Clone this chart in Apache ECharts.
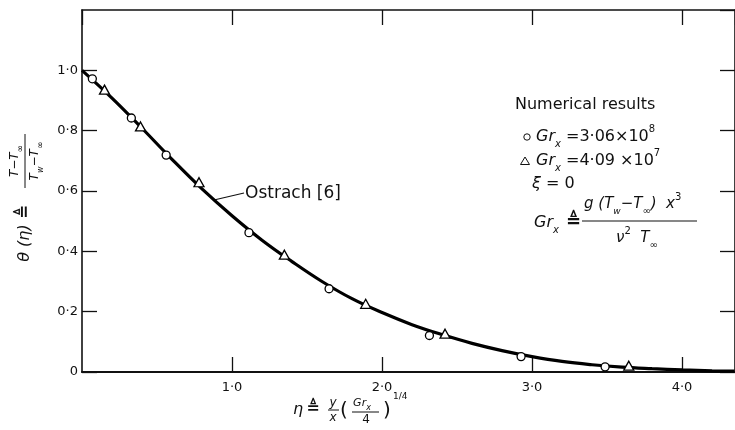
<!DOCTYPE html>
<html>
<head>
<meta charset="utf-8">
<script src="https://cdn.jsdelivr.net/npm/echarts@6/dist/echarts.min.js"></script>
<style>
  html, body { margin: 0; padding: 0; background: #fff; }
  #chart { width: 735px; height: 430px; }
</style>
</head>
<body>
<div id="chart"></div>
<script>
// Ostrach similarity solution (solid curve)
const curveEta = [0, 0.2, 0.4, 0.6, 0.8, 1.0, 1.2, 1.4, 1.6, 1.8, 2.0, 2.2, 2.4, 2.6, 2.8, 3.0, 3.2, 3.4, 3.6, 3.8, 4.0, 4.2, 4.35];
const curveTheta = [1.0, 0.908, 0.808, 0.705, 0.607, 0.518, 0.437, 0.366, 0.300, 0.243, 0.197, 0.157, 0.124, 0.095, 0.071, 0.051, 0.035, 0.024, 0.016, 0.011, 0.007, 0.004, 0.003];

// numerical results, Gr_x = 3.06e8 (circles)
const circleEta = [0.069, 0.329, 0.561, 1.113, 1.647, 2.316, 2.927, 3.487];
const circleTheta = [0.972, 0.842, 0.719, 0.462, 0.276, 0.121, 0.051, 0.017];

// numerical results, Gr_x = 4.09e7 (triangles)
const triEta = [0.15, 0.39, 0.78, 1.349, 1.891, 2.42, 3.645];
const triTheta = [0.936, 0.814, 0.629, 0.389, 0.226, 0.127, 0.021];

const xTicks = [1, 2, 3, 4];
const yTicks = [0, 0.2, 0.4, 0.6, 0.8, 1.0];

const FONT = '"DejaVu Sans", sans-serif';
const INK = '#111';

function dotted(v) {
    return v === 0 ? '0' : v.toFixed(1).replace('.', '\u00b7');
}

function pairs(xs, ys) {
    return xs.map((x, i) => [x, ys[i]]);
}

// small text helper for the annotations
function txt(x, y, s, size, extra) {
    return {
        type: 'text', x: x, y: y, silent: true,
        style: Object.assign({
            text: s, fontSize: size, fontFamily: FONT, fill: INK,
            align: 'left', verticalAlign: 'middle'
        }, extra || {})
    };
}
function seg(x1, y1, x2, y2, w) {
    return { type: 'line', silent: true, shape: { x1: x1, y1: y1, x2: x2, y2: y2 }, style: { stroke: INK, lineWidth: w || 1.2 } };
}

const rich = {
    i: { fontStyle: 'italic', fontSize: 16, fontFamily: FONT, fill: INK },
    m: { fontSize: 16, fontFamily: FONT, fill: INK },
    s: { fontStyle: 'italic', fontSize: 10, fontFamily: FONT, fill: INK, verticalAlign: 'bottom', lineHeight: 25 },
    p: { fontSize: 10, fontFamily: FONT, fill: INK, verticalAlign: 'top', lineHeight: 25 },
    si: { fontStyle: 'italic', fontSize: 11, fontFamily: FONT, fill: INK },
    ss: { fontStyle: 'italic', fontSize: 8, fontFamily: FONT, fill: INK, verticalAlign: 'bottom', lineHeight: 18 },
    sm: { fontStyle: 'italic', fontSize: 12, fontFamily: FONT, fill: INK },
    sx: { fontSize: 9, fontFamily: FONT, fill: INK, verticalAlign: 'bottom', lineHeight: 20 },
    sw: { fontStyle: 'italic', fontSize: 8, fontFamily: FONT, fill: INK, verticalAlign: 'bottom', lineHeight: 20 }
};

// bigger variant for the definition of Gr_x
const richBig = Object.assign({}, rich, {
    sm: { fontStyle: 'italic', fontSize: 15, fontFamily: FONT, fill: INK },
    sx: { fontSize: 10, fontFamily: FONT, fill: INK, verticalAlign: 'bottom', lineHeight: 24 },
    sw: { fontStyle: 'italic', fontSize: 9, fontFamily: FONT, fill: INK, verticalAlign: 'bottom', lineHeight: 24 },
    p: { fontSize: 10, fontFamily: FONT, fill: INK, verticalAlign: 'top', lineHeight: 24 }
});

const axisCommon = {
    type: 'value',
    axisLine: { show: true, onZero: false, lineStyle: { color: INK, width: 1.6 } },
    axisTick: { show: true, inside: true, length: 15, lineStyle: { color: INK, width: 1.3 } },
    splitLine: { show: false }
};

const chart = echarts.init(document.getElementById('chart'), null, { renderer: 'canvas' });

chart.setOption({
    animation: false,
    backgroundColor: '#fff',
    grid: { left: 82, right: 0, top: 10, bottom: 58 },
    xAxis: [
        Object.assign({}, axisCommon, {
            position: 'bottom', min: 0, max: 4.353, interval: 1,
            axisLine: { show: true, onZero: false, lineStyle: { color: INK, width: 2.2 } },
            axisLabel: {
                color: INK, fontSize: 13, fontFamily: FONT, margin: 9,
                showMinLabel: false, showMaxLabel: false,
                formatter: v => xTicks.indexOf(v) >= 0 ? dotted(v) : ''
            }
        }),
        Object.assign({}, axisCommon, {
            position: 'top', min: 0, max: 4.353, interval: 1,
            axisLabel: { show: false }
        })
    ],
    yAxis: [
        Object.assign({}, axisCommon, {
            position: 'left', min: 0, max: 1.2, interval: 0.2,
            axisLabel: {
                color: INK, fontSize: 13, fontFamily: FONT, margin: 4,
                showMaxLabel: false,
                formatter: v => yTicks.some(t => Math.abs(t - v) < 1e-6) ? dotted(Math.round(v * 10) / 10) : ''
            }
        }),
        Object.assign({}, axisCommon, {
            position: 'right', min: 0, max: 1.2, interval: 0.2,
            axisLabel: { show: false }
        })
    ],
    series: [
        {
            name: 'Ostrach [6]',
            type: 'line',
            data: pairs(curveEta, curveTheta),
            smooth: 0.4,
            showSymbol: false,
            lineStyle: { color: '#000', width: 3.2 },
            z: 2
        },
        {
            name: 'Gr 3.06e8',
            type: 'scatter',
            data: pairs(circleEta, circleTheta),
            symbol: 'circle',
            symbolSize: 8,
            itemStyle: { color: '#fff', opacity: 1, borderColor: '#000', borderWidth: 1.3 },
            z: 3
        },
        {
            name: 'Gr 4.09e7',
            type: 'scatter',
            data: pairs(triEta, triTheta),
            symbol: 'triangle',
            symbolSize: [10, 9],
            itemStyle: { color: '#fff', opacity: 1, borderColor: '#000', borderWidth: 1.3 },
            z: 3
        }
    ],
    graphic: [
        // Ostrach label and leader
        seg(214, 200, 244, 193, 1.2),
        txt(245, 194, 'Ostrach [6]', 17),

        // numerical results block
        txt(515, 105, 'Numerical results', 16),
        { type: 'circle', silent: true, shape: { cx: 527, cy: 137, r: 3.2 }, style: { fill: '#fff', stroke: INK, lineWidth: 1 } },
        txt(536, 137, '{i|Gr}{s|x}{m| =3\u00b706\u00d710}{p|8}', 16, { rich: rich }),
        { type: 'polygon', silent: true, shape: { points: [[525, 157], [529.5, 164.5], [520.5, 164.5]] }, style: { fill: '#fff', stroke: INK, lineWidth: 1 } },
        txt(536, 161, '{i|Gr}{s|x}{m| =4\u00b709 \u00d710}{p|7}', 16, { rich: rich }),
        txt(532, 184, '{i|\u03be}{m| = 0}', 16, { rich: rich }),
        txt(534, 223, '{i|Gr}{s|x}', 16, { rich: rich }),
        txt(566, 222, '\u225c', 18, { fontWeight: 'bold' }),
        txt(584, 204, '{sm|g (T}{sw|w}{sm|\u2212T}{sx|\u221e}{sm|)  x}{p|3}', 15, { rich: richBig }),
        seg(582, 221, 697, 221, 1.2),
        txt(616, 238, '{sm|\u03bd}{p|2}{sm|  T}{sx|\u221e}', 15, { rich: richBig }),

        // x axis title: eta = y/x (Gr_x/4)^(1/4)
        txt(298, 410, '\u03b7', 16, { fontStyle: 'italic', align: 'center' }),
        txt(313, 409, '\u225c', 16, { fontWeight: 'bold', align: 'center' }),
        txt(333, 403, 'y', 12, { fontStyle: 'italic', align: 'center' }),
        seg(328, 410, 339, 410, 1),
        txt(333, 418, 'x', 12, { fontStyle: 'italic', align: 'center' }),
        txt(344, 411, '(', 20, { align: 'center' }),
        txt(362, 403, '{si|Gr}{ss|x}', 11, { rich: rich, align: 'center' }),
        seg(352, 412, 379, 412, 1),
        txt(366, 420, '4', 12, { align: 'center' }),
        txt(387, 411, ')', 20, { align: 'center' }),
        txt(393, 397, '1/4', 9),

        // y axis title, rotated: theta(eta) = (T - Tinf)/(Tw - Tinf)
        {
            type: 'group', x: 25, y: 190, rotation: Math.PI / 2, silent: true,
            children: [
                txt(-53, 0, '\u03b8 (\u03b7)', 16, { fontStyle: 'italic', align: 'center' }),
                txt(-22, 0, '\u225c', 17, { fontWeight: 'bold', align: 'center' }),
                seg(2, 0, 56, 0, 1),
                txt(29, -10, '{sm|T\u2212T}{sx|\u221e}', 12, { rich: rich, align: 'center' }),
                txt(29, 10, '{sm|T}{sw|w}{sm|\u2212T}{sx|\u221e}', 12, { rich: rich, align: 'center' })
            ]
        }
    ]
});
</script>
</body>
</html>
